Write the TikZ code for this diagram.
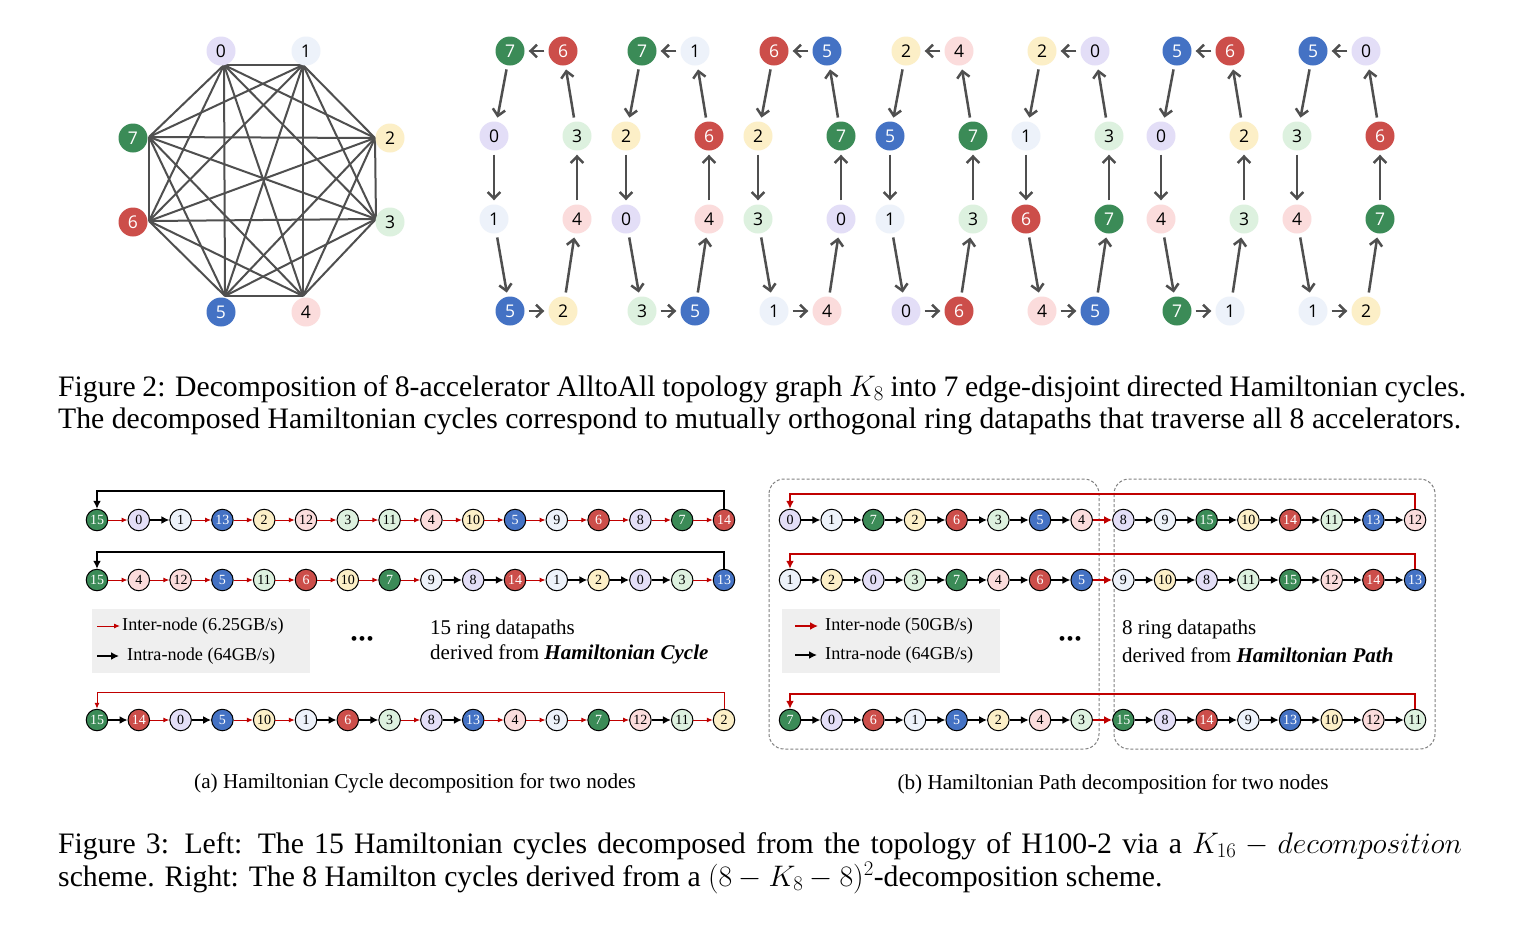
\RequirePackage{fix-cm}
\documentclass[tikz,border=0pt]{standalone}
\usepackage{fontspec}
\setmainfont{Liberation Serif}
\newfontfamily\numfont{Open Sans}
\usetikzlibrary{arrows.meta}
\definecolor{c0}{HTML}{E3DEF7}
\definecolor{c1}{HTML}{EDF2FA}
\definecolor{c2}{HTML}{FCEFC7}
\definecolor{c3}{HTML}{DDF1DF}
\definecolor{c4}{HTML}{FBDCDC}
\definecolor{c5}{HTML}{4472C4}
\definecolor{c6}{HTML}{CC4E4A}
\definecolor{c7}{HTML}{3B8B57}
\definecolor{dk}{HTML}{4F4F4F}
\definecolor{rd}{HTML}{C00000}
\definecolor{lg}{HTML}{EFEFEF}
\tikzset{
 col0/.style={fill=c0,text=black}, col1/.style={fill=c1,text=black},
 col2/.style={fill=c2,text=black}, col3/.style={fill=c3,text=black},
 col4/.style={fill=c4,text=black}, col5/.style={fill=c5,text=white},
 col6/.style={fill=c6,text=white}, col7/.style={fill=c7,text=white},
 tn/.style={circle,minimum size=29pt,inner sep=0pt,font=\numfont\fontsize{17.5}{17.5}\selectfont},
 ta/.style={draw=dk,line width=2.5pt,-{Straight Barb[length=6.5pt,width=12.5pt]},shorten >=4pt,shorten <=4pt},
 ke/.style={draw=dk,line width=2pt},
 bn/.style={circle,draw=black,line width=1pt,minimum size=21.5pt,inner sep=0pt,font=\fontsize{14}{14}\selectfont},
 ba/.style={draw=black,line width=2.5pt,-{Latex[length=8pt,width=8pt]}},
 ra/.style={draw=rd,line width=1pt,-{Latex[length=6pt,width=5pt]}},
 rb/.style={draw=rd,line width=2.5pt,-{Latex[length=8pt,width=8pt]}},
 cross/.style={ra},
 captxt/.style={anchor=west,inner sep=0pt,font=\fontsize{29.7}{32}\selectfont},
 leg/.style={anchor=west,inner sep=0pt,font=\fontsize{18.2}{20}\selectfont},
 note/.style={anchor=west,inner sep=0pt,font=\fontsize{21}{22}\selectfont},
 sub/.style={inner sep=0pt,font=\fontsize{21.2}{22}\selectfont},
 dbox/.style={draw=gray,dashed,dash pattern=on 3pt off 2pt,line width=1pt,rounded corners=15pt},
}
\newcommand\noderow[5]{%
 \foreach \v [count=\i from 0, remember=\v as \pv (initially 0)] in {#5} {
   \pgfmathtruncatemacro\cc{mod(\v,8)}
   \node[bn,col\cc] (#1-\i) at ({#2+\i*#3},#4) {\v};
   \ifnum\i>0
     \pgfmathtruncatemacro\j{\i-1}
     \pgfmathtruncatemacro\same{((\v<8)==(\pv<8))?1:0}
     \ifnum\same=1 \draw[ba] (#1-\j) -- (#1-\i); \else \draw[cross] (#1-\j) -- (#1-\i); \fi
   \fi
 }}
\begin{document}
\begin{tikzpicture}[x=1pt,y=-1pt]
\useasboundingbox (0,0) rectangle (1516,927);
\fill[white] (0,0) rectangle (1516,927);
% ---------- K8 graph
\coordinate (v0) at (224,65); \coordinate (v1) at (303,65);
\coordinate (v2) at (375,138); \coordinate (v3) at (376,219);
\coordinate (v4) at (303,296); \coordinate (v5) at (225,296);
\coordinate (v6) at (149,221); \coordinate (v7) at (149,137);
\foreach \a in {0,...,7}{\foreach \b in {0,...,7}{\ifnum\a<\b \draw[ke] (v\a) -- (v\b);\fi}}
\node[tn,col0] (k0) at (221,51) {0};
\node[tn,col1] (k1) at (306,51) {1};
\node[tn,col2] (k2) at (390,138) {2};
\node[tn,col3] (k3) at (390,222) {3};
\node[tn,col4] (k4) at (306,312) {4};
\node[tn,col5] (k5) at (221,312) {5};
\node[tn,col6] (k6) at (133,222) {6};
\node[tn,col7] (k7) at (133,138) {7};
% ---------- 7 Hamiltonian cycles
\foreach \L/\a/\b/\c/\d/\e/\f/\g/\h [count=\k] in {494/7/0/1/5/2/4/3/6, 626/7/2/0/3/5/4/6/1, 758/6/2/3/1/4/0/7/5, 890/2/5/1/0/6/3/7/4, 1026/2/1/6/4/5/7/3/0, 1161/5/0/4/7/1/3/2/6, 1297/5/3/4/1/2/7/6/0}{
  \node[tn,col\a] (h\k-a) at (\L+16,51) {\a};
  \node[tn,col\b] (h\k-b) at (\L,136) {\b};
  \node[tn,col\c] (h\k-c) at (\L,219) {\c};
  \node[tn,col\d] (h\k-d) at (\L+16,311) {\d};
  \node[tn,col\e] (h\k-e) at (\L+69,311) {\e};
  \node[tn,col\f] (h\k-f) at (\L+83,219) {\f};
  \node[tn,col\g] (h\k-g) at (\L+83,136) {\g};
  \node[tn,col\h] (h\k-h) at (\L+69,51) {\h};
  \draw[ta] (h\k-a) -- (h\k-b);
  \draw[ta] (h\k-b) -- (h\k-c);
  \draw[ta] (h\k-c) -- (h\k-d);
  \draw[ta] (h\k-d) -- (h\k-e);
  \draw[ta] (h\k-e) -- (h\k-f);
  \draw[ta] (h\k-f) -- (h\k-g);
  \draw[ta] (h\k-g) -- (h\k-h);
  \draw[ta] (h\k-h) -- (h\k-a);
}
% ---------- Figure 2 caption
\node[captxt] (f2a) at (58,389) {\makebox[1408pt][s]{Figure 2: Decomposition of 8-accelerator AlltoAll topology graph $K_8$ into 7 edge-disjoint directed Hamiltonian cycles.}};
\node[captxt] (f2b) at (58,421) {The decomposed Hamiltonian cycles correspond to mutually orthogonal ring datapaths that traverse all 8 accelerators.};
% ---------- (a) Hamiltonian cycle rows
\tikzset{cross/.style={ra}}
\noderow{A}{97}{41.8}{520}{15,0,1,13,2,12,3,11,4,10,5,9,6,8,7,14}
\noderow{B}{97}{41.8}{580}{15,4,12,5,11,6,10,7,9,8,14,1,2,0,3,13}
\noderow{C}{97}{41.8}{720}{15,14,0,5,10,1,6,3,8,13,4,9,7,12,11,2}
\coordinate (ya) at (0,491); \coordinate (yb) at (0,552); \coordinate (yc) at (0,692);
\draw[ba] (A-15.north) -- (A-15.north |- ya) -| (A-0.north);
\draw[ba] (B-15.north) -- (B-15.north |- yb) -| (B-0.north);
\draw[ra] (C-15.north) -- (C-15.north |- yc) -| (C-0.north);
\fill[lg] (92,609) rectangle (310,673);
\coordinate (la1) at (97,626); \coordinate (la1e) at (120,626);
\coordinate (la2) at (97,656); \coordinate (la2e) at (119,656);
\draw[ra] (la1) -- (la1e);
\draw[ba] (la2) -- (la2e);
\node[leg] (lt1) at (122,626) {Inter-node (6.25GB/s)};
\node[leg] (lt2) at (127,656) {Intra-node (64GB/s)};
\node[inner sep=0pt,font=\fontsize{20}{20}\selectfont] (dots1) at (362,641) {\textbullet\hspace{1pt}\textbullet\hspace{1pt}\textbullet};
\node[note] (n1) at (430,629) {15 ring datapaths};
\node[note] (n2) at (430,654) {derived from \textbf{\textit{Hamiltonian Cycle}}};
\node[sub] (suba) at (415,783) {(a) Hamiltonian Cycle decomposition for two nodes};
% ---------- (b) Hamiltonian path rows
\draw[dbox] (769,479) rectangle (1099,749);
\draw[dbox] (1114,479) rectangle (1435,749);
\tikzset{cross/.style={rb}}
\noderow{D}{790}{41.67}{520}{0,1,7,2,6,3,5,4,8,9,15,10,14,11,13,12}
\noderow{E}{790}{41.67}{580}{1,2,0,3,7,4,6,5,9,10,8,11,15,12,14,13}
\noderow{F}{790}{41.67}{720}{7,0,6,1,5,2,4,3,15,8,14,9,13,10,12,11}
\coordinate (yd) at (0,494); \coordinate (ye) at (0,554); \coordinate (yf) at (0,694);
\draw[rb] (D-15.north) -- (D-15.north |- yd) -| (D-0.north);
\draw[rb] (E-15.north) -- (E-15.north |- ye) -| (E-0.north);
\draw[rb] (F-15.north) -- (F-15.north |- yf) -| (F-0.north);
\fill[lg] (782,609) rectangle (1000,673);
\coordinate (lb1) at (795,626); \coordinate (lb1e) at (818,626);
\coordinate (lb2) at (795,655); \coordinate (lb2e) at (817,655);
\draw[rb] (lb1) -- (lb1e);
\draw[ba] (lb2) -- (lb2e);
\node[leg] (lt3) at (825,626) {Inter-node (50GB/s)};
\node[leg] (lt4) at (825,655) {Intra-node (64GB/s)};
\node[inner sep=0pt,font=\fontsize{20}{20}\selectfont] (dots2) at (1070,641) {\textbullet\hspace{1pt}\textbullet\hspace{1pt}\textbullet};
\node[note] (n3) at (1122,629) {8 ring datapaths};
\node[note] (n4) at (1122,655) {derived from \textbf{\textit{Hamiltonian Path}}};
\node[sub] (subb) at (1113,784) {(b) Hamiltonian Path decomposition for two nodes};
% ---------- Figure 3 caption
\node[captxt] (f3a) at (58,846) {\makebox[1404pt][s]{Figure 3: Left: The 15 Hamiltonian cycles decomposed from the topology of H100-2 via a $K_{16}-decomposition$}};
\node[captxt] (f3b) at (58,878) {scheme. Right: The 8 Hamilton cycles derived from a $(8-K_8-8)^2$-decomposition scheme.};
\end{tikzpicture}
\end{document}
